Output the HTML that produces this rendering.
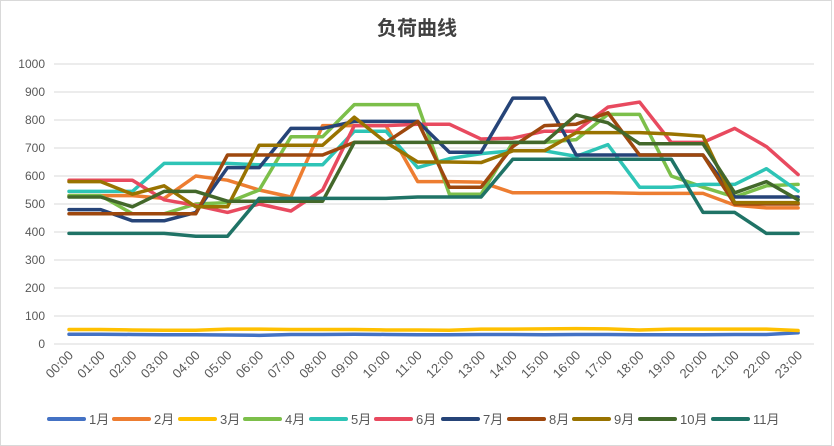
<!DOCTYPE html>
<html><head><meta charset="utf-8"><style>body{margin:0;background:#fff}svg{display:block}</style></head>
<body>
<svg width="834" height="446" xmlns="http://www.w3.org/2000/svg" font-family="Liberation Sans, Noto Sans CJK SC, sans-serif">
<rect x="0.5" y="0.5" width="831" height="445" fill="#fff" stroke="#d9d9d9"/>
<text x="417" y="35" text-anchor="middle" font-size="20" font-weight="bold" fill="#404040" font-family="Noto Sans CJK SC, sans-serif">负荷曲线</text>
<g id="grid" stroke="#d9d9d9" stroke-width="1"></g>
<g id="ylab" font-size="12" fill="#595959" text-anchor="end"></g>
<g id="xlab" font-size="13" fill="#595959" text-anchor="end"></g>
<g id="series" fill="none" stroke-width="3.5" stroke-linejoin="round" stroke-linecap="round"></g>
<g id="legend" font-size="13" fill="#595959"></g>
</svg>
<script>
const ns="http://www.w3.org/2000/svg";
function el(t,a,p,txt){const e=document.createElementNS(ns,t);for(const k in a)e.setAttribute(k,a[k]);if(txt!=null)e.textContent=txt;document.getElementById(p).appendChild(e);return e;}
const Y=v=>344-v*0.28, X=i=>69+i*31.7;
for(let v=0;v<=1000;v+=100){el('line',{x1:54,x2:814,y1:Y(v),y2:Y(v)},'grid');el('text',{x:45,y:Y(v)+4},'ylab',v);}
for(let i=0;i<24;i++){const h=(i<10?'0':'')+i+':00';const x=X(i)+5,y=356;el('text',{x:x,y:y,transform:`rotate(-45 ${x} ${y})`},'xlab',h);}
const S=[
['1月','#4472C4',[35,35,34,33,33,32,31,34,34,35,34,33,33,34,34,33,34,34,33,33,33,34,34,40]],
['2月','#ED7D31',[530,530,530,520,600,585,550,525,780,780,780,580,580,578,540,540,540,540,538,538,538,496,486,486]],
['3月','#FFC000',[52,52,50,49,49,53,53,52,52,52,50,50,49,53,53,54,55,54,50,53,53,53,53,48]],
['4月','#7CBF4A',[530,530,465,465,500,505,550,740,740,855,855,855,535,535,720,720,730,820,820,600,560,525,565,570]],
['5月','#2EC4B6',[545,545,545,645,645,645,640,640,640,760,760,630,662,680,690,690,670,712,560,560,570,570,626,546]],
['6月','#E84A5F',[585,585,585,515,495,470,500,475,550,780,780,785,785,732,735,760,760,846,864,720,720,770,705,605]],
['7月','#264478',[480,480,440,440,470,630,630,770,770,795,795,795,685,685,878,878,675,675,675,675,675,525,525,525]],
['8月','#9E480E',[465,465,465,465,465,675,675,675,675,720,720,795,560,560,705,780,785,826,675,675,675,500,500,500]],
['9月','#997300',[580,580,535,565,490,490,710,710,710,810,720,650,650,648,690,690,755,755,755,750,742,505,505,505]],
['10月','#43682B',[525,525,490,545,545,510,510,510,510,720,720,720,720,720,720,720,818,790,715,715,715,540,580,515]],
['11月','#1F7366',[395,395,395,395,385,385,520,520,520,520,520,525,525,525,660,660,660,660,660,660,470,470,395,395]]];
const lx=[49,114,180,245,311,376,443,509,574,640,713];
S.forEach((s,k)=>{el('polyline',{points:s[2].map((v,i)=>X(i)+','+Y(v)).join(' '),stroke:s[1]},'series');
el('line',{x1:lx[k],x2:lx[k]+35,y1:419,y2:419,stroke:s[1],'stroke-width':4,'stroke-linecap':'round'},'legend');
el('text',{x:lx[k]+40,y:424},'legend',s[0]);});
</script>
</body></html>
